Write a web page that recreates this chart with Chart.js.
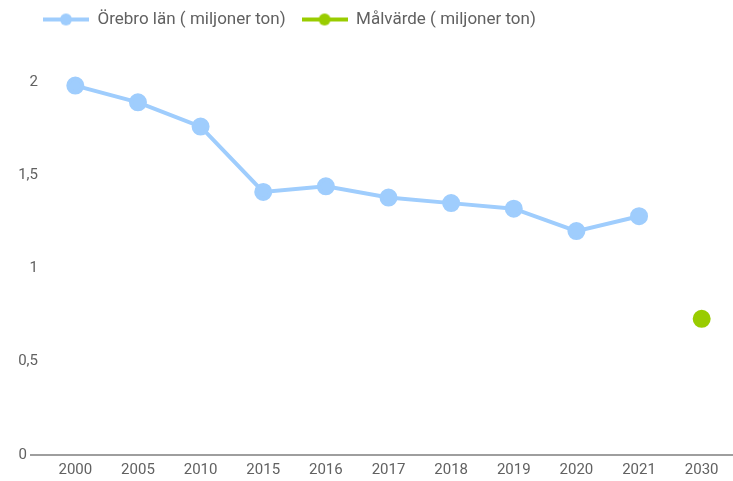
<!DOCTYPE html>
<html>
<head>
<meta charset="utf-8">
<script src="https://cdn.jsdelivr.net/npm/chart.js@4"></script>
<style>
    html, body { margin: 0; padding: 0; background: #fff; }
    #wrap { width: 733px; height: 481px; }
</style>
</head>
<body>
<div id="wrap"><canvas id="emissionChart"></canvas></div>
<script>
Chart.defaults.font.family = 'Roboto';
Chart.defaults.font.size = 15;
Chart.defaults.color = '#616161';

const years = ['2000', '2005', '2010', '2015', '2016', '2017', '2018', '2019', '2020', '2021', '2030'];
const orebroValues = [1.98, 1.89, 1.76, 1.41, 1.44, 1.38, 1.35, 1.32, 1.20, 1.28, null];
const targetValues = [null, null, null, null, null, null, null, null, null, null, 0.73];
const yTicks = [0, 0.5, 1, 1.5, 2];

const blue = '#9fcdfd';
const green = '#99cc00';
const textColor = '#616161';

// line with a dot in the middle, used as the legend marker
let legendMarker = (color) => {
    const c = document.createElement('canvas');
    c.width = 46;
    c.height = 14;
    const g = c.getContext('2d');
    g.strokeStyle = color;
    g.lineWidth = 4;
    g.beginPath();
    g.moveTo(0, 7);
    g.lineTo(46, 7);
    g.stroke();
    g.fillStyle = color;
    g.beginPath();
    g.arc(23, 7, 6, 0, Math.PI * 2);
    g.fill();
    return c;
};

// legend sits a bit to the right of the y axis labels
const legendShift = {
    id: 'legendShift',
    afterLayout: (ch) => {
        ch.legend.left += 12;
    }
};

let chart = new Chart(document.getElementById('emissionChart').getContext('2d'), {
    type: 'line',
    data: {
        labels: years,
        datasets: [{
            label: 'Örebro län ( miljoner ton)',
            data: orebroValues,
            borderColor: blue,
            backgroundColor: blue,
            borderWidth: 4,
            pointRadius: 7,
            pointHoverRadius: 8,
            tension: 0,
            spanGaps: false,
        }, {
            label: 'Målvärde ( miljoner ton)',
            data: targetValues,
            borderColor: green,
            backgroundColor: green,
            borderWidth: 4,
            pointRadius: 7,
            pointHoverRadius: 8,
        }]
    },
    plugins: [legendShift],
    options: {
        responsive: true,
        maintainAspectRatio: false,
        animation: false,
        layout: {
            autoPadding: false,
            padding: { left: 15, right: 0, top: -5, bottom: -4 }
        },
        plugins: {
            legend: {
                position: 'top',
                align: 'start',
                labels: {
                    usePointStyle: true,
                    pointStyleWidth: 46,
                    padding: 16,
                    font: { size: 17 },
                    color: textColor,
                    generateLabels: (ch) => ch.data.datasets.map((ds, i) => ({
                        text: ds.label,
                        pointStyle: legendMarker(ds.borderColor),
                        fillStyle: ds.backgroundColor,
                        strokeStyle: ds.borderColor,
                        fontColor: textColor,
                        lineWidth: 0,
                        datasetIndex: i,
                        hidden: !ch.isDatasetVisible(i),
                    })),
                }
            },
            tooltip: { enabled: true }
        },
        scales: {
            x: {
                offset: true,
                grid: { display: false, drawTicks: false },
                border: { display: false },
                ticks: { padding: 6, color: textColor, maxRotation: 0 }
            },
            y: {
                min: 0,
                max: 2.235,
                afterBuildTicks: (axis) => {
                    axis.ticks = yTicks.map((v) => ({ value: v }));
                },
                afterFit: (axis) => {
                    axis.width = 29;
                },
                border: { display: false },
                grid: {
                    drawTicks: true,
                    tickLength: 14,
                    lineWidth: 2,
                    color: (ctx) => ctx.tick && ctx.tick.value === 0 ? '#9e9e9e' : 'rgba(0,0,0,0)',
                },
                ticks: {
                    padding: -8,
                    color: textColor,
                    callback: (v) => v === 0 ? '0   ' : String(v).replace('.', ','),
                }
            }
        }
    }
});
</script>
</body>
</html>
